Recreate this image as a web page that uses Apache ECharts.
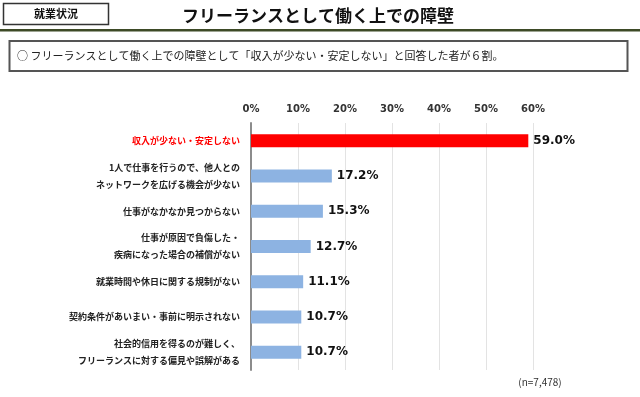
<!DOCTYPE html>
<html>
<head>
<meta charset="utf-8">
<script src="https://cdn.jsdelivr.net/npm/echarts@6/dist/echarts.min.js"></script>
<style>
  html, body { margin: 0; padding: 0; background: #fff; }
  #chart { width: 640px; height: 397px; }
</style>
</head>
<body>
<div id="chart"></div>
<script>
// 回答項目（上から順）
const categories = [
  '収入が少ない・安定しない',
  '1人で仕事を行うので、他人との\nネットワークを広げる機会が少ない',
  '仕事がなかなか見つからない',
  '仕事が原因で負傷した・\n疾病になった場合の補償がない',
  '就業時間や休日に関する規制がない',
  '契約条件があいまい・事前に明示されない',
  '社会的信用を得るのが難しく、\nフリーランスに対する偏見や誤解がある'
]
const values = [59.0, 17.2, 15.3, 12.7, 11.1, 10.7, 10.7]
const highlightIndex = 0

const headerTag = '就業状況'
const title = 'フリーランスとして働く上での障壁'
const summary = '○ フリーランスとして働く上での障壁として「収入が少ない・安定しない」と回答した者が６割。'
const sampleNote = '(n=7,478)'

const RED = '#ff0000'
const BLUE = '#8db3e2'
const FONT = '"Noto Sans CJK JP", "Noto Sans", sans-serif'

const chart = echarts.init(document.getElementById('chart'), null, { renderer: 'canvas' })

chart.setOption({
  animation: false,
  textStyle: { fontFamily: FONT },
  grid: { left: 251, right: 107, top: 123, bottom: 27 },
  xAxis: {
    type: 'value',
    position: 'top',
    min: 0,
    max: 60,
    interval: 10,
    axisLine: { show: false },
    axisTick: { show: false },
    axisLabel: {
      formatter: '{value}%',
      color: '#333',
      fontSize: 10,
      fontWeight: 'bold',
      fontFamily: 'DejaVu Sans',
      margin: 9
    },
    splitLine: { lineStyle: { color: '#e3e3e3', width: 1 } }
  },
  yAxis: {
    type: 'category',
    inverse: true,
    data: categories,
    axisLine: { show: true, lineStyle: { color: '#8c8c8c', width: 2 } },
    axisTick: { show: false },
    axisLabel: {
      margin: 11,
      fontSize: 9,
      fontWeight: 'bold',
      lineHeight: 17,
      color: (val, idx) => idx === highlightIndex ? RED : '#222'
    }
  },
  series: [{
    type: 'bar',
    data: values.map((v, i) => ({
      value: v,
      itemStyle: { color: i === highlightIndex ? RED : BLUE }
    })),
    barWidth: 13,
    label: {
      show: true,
      position: 'right',
      distance: 5,
      formatter: p => p.value.toFixed(1) + '%',
      color: '#111',
      fontSize: 12,
      fontWeight: 'bold',
      fontFamily: 'DejaVu Sans'
    }
  }],
  graphic: [
    {
      type: 'rect',
      shape: { x: 3.5, y: 3.5, width: 105, height: 21 },
      style: { fill: '#fff', stroke: '#333', lineWidth: 1.5 }
    },
    {
      type: 'text',
      x: 56, y: 14,
      style: {
        text: headerTag, fontSize: 11, fontWeight: 'bold', fontFamily: FONT,
        fill: '#111', align: 'center', verticalAlign: 'middle'
      }
    },
    {
      type: 'text',
      x: 318, y: 16,
      style: {
        text: title, fontSize: 17, fontWeight: 'bold', fontFamily: FONT,
        fill: '#111', align: 'center', verticalAlign: 'middle'
      }
    },
    {
      type: 'rect',
      shape: { x: 0, y: 29, width: 640, height: 2.5 },
      style: { fill: '#3d4a26' }
    },
    {
      type: 'rect',
      shape: { x: 9.5, y: 41, width: 618, height: 30 },
      style: { fill: '#fff', stroke: '#555', lineWidth: 2 }
    },
    {
      type: 'text',
      x: 17, y: 56,
      style: {
        text: summary, fontSize: 11, fontFamily: FONT,
        fill: '#222', align: 'left', verticalAlign: 'middle'
      }
    },
    {
      type: 'text',
      x: 540, y: 382,
      style: {
        text: sampleNote, fontSize: 10, fontFamily: FONT,
        fill: '#333', align: 'center', verticalAlign: 'middle'
      }
    }
  ]
})
</script>
</body>
</html>
